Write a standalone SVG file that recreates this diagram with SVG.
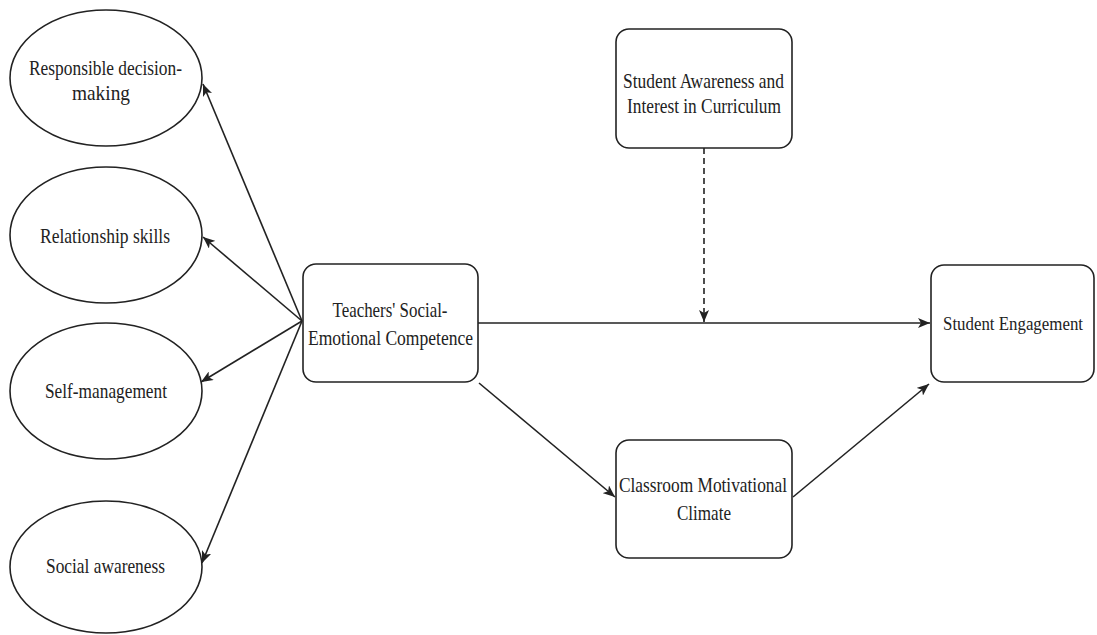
<svg xmlns="http://www.w3.org/2000/svg" width="1097" height="635" viewBox="0 0 1097 635">
<style>
.shape{fill:#fff;stroke:#222;stroke-width:1.6}
.t{font-family:"Liberation Serif","Times New Roman",serif;font-size:21px;fill:#222;text-anchor:middle}
.c{fill:none;stroke:#222;stroke-width:1.6}
.d{stroke-dasharray:6 4}
</style>
<defs>
<marker id="ah" viewBox="0 0 12 10" refX="12" refY="5" markerWidth="12" markerHeight="10" markerUnits="userSpaceOnUse" orient="auto">
<path d="M0,0 L12,5 L0,10 L3,5 Z" fill="#222"/>
</marker>
</defs>
<rect width="1097" height="635" fill="#fff"/>
<g id="connectors">
<line class="c" x1="302" y1="321" x2="203" y2="84" marker-end="url(#ah)"/>
<line class="c" x1="302" y1="321" x2="203" y2="237" marker-end="url(#ah)"/>
<line class="c" x1="302" y1="321" x2="201" y2="382" marker-end="url(#ah)"/>
<line class="c" x1="302" y1="321" x2="202" y2="563" marker-end="url(#ah)"/>
<line class="c" x1="478" y1="323" x2="930" y2="323" marker-end="url(#ah)"/>
<line class="c d" x1="704" y1="148" x2="704" y2="322" marker-end="url(#ah)"/>
<line class="c" x1="479" y1="383" x2="615" y2="497" marker-end="url(#ah)"/>
<line class="c" x1="793" y1="497" x2="929" y2="384" marker-end="url(#ah)"/>
</g>
<g id="rdm">
<ellipse class="shape" cx="106" cy="78" rx="96" ry="68"/>
<text class="t" x="105.5" y="75" textLength="153" lengthAdjust="spacingAndGlyphs">Responsible decision-</text>
<text class="t" x="101" y="100" textLength="58" lengthAdjust="spacingAndGlyphs">making</text>
</g>
<g id="rs">
<ellipse class="shape" cx="106" cy="235" rx="96" ry="68"/>
<text class="t" x="105" y="243" textLength="130" lengthAdjust="spacingAndGlyphs">Relationship skills</text>
</g>
<g id="sm">
<ellipse class="shape" cx="106" cy="391" rx="96" ry="68"/>
<text class="t" x="106" y="398" textLength="122" lengthAdjust="spacingAndGlyphs">Self-management</text>
</g>
<g id="sa">
<ellipse class="shape" cx="106" cy="567" rx="96" ry="66"/>
<text class="t" x="105.5" y="573" textLength="119" lengthAdjust="spacingAndGlyphs">Social awareness</text>
</g>
<g id="tsec">
<rect class="shape" x="303" y="264" width="175" height="118" rx="13"/>
<text class="t" x="390" y="317" textLength="115" lengthAdjust="spacingAndGlyphs">Teachers' Social-</text>
<text class="t" x="390.5" y="345" textLength="165" lengthAdjust="spacingAndGlyphs">Emotional Competence</text>
</g>
<g id="saic">
<rect class="shape" x="616" y="29" width="176" height="119" rx="13"/>
<text class="t" x="703.5" y="88" textLength="161" lengthAdjust="spacingAndGlyphs">Student Awareness and</text>
<text class="t" x="704" y="113" textLength="154" lengthAdjust="spacingAndGlyphs">Interest in Curriculum</text>
</g>
<g id="cmc">
<rect class="shape" x="616" y="440" width="176" height="118" rx="13"/>
<text class="t" x="703" y="492" textLength="168" lengthAdjust="spacingAndGlyphs">Classroom Motivational</text>
<text class="t" x="704" y="520" textLength="54" lengthAdjust="spacingAndGlyphs">Climate</text>
</g>
<g id="se">
<rect class="shape" x="931" y="265" width="163" height="117" rx="13"/>
<text class="t" x="1013" y="330" style="font-size:18.5px" textLength="140" lengthAdjust="spacingAndGlyphs">Student Engagement</text>
</g>
</svg>
